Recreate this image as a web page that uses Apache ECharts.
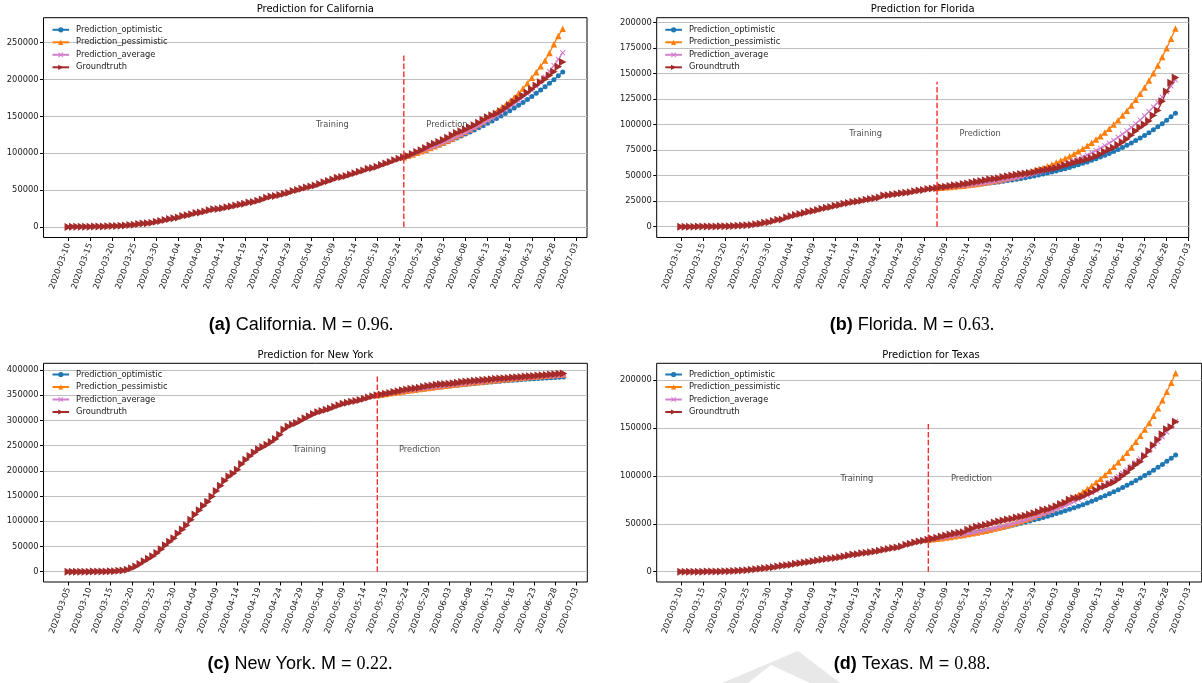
<!DOCTYPE html>
<html>
<head>
<meta charset="utf-8">
<title>Prediction vs groundtruth by state</title>
<script src="https://cdn.jsdelivr.net/npm/echarts@6/dist/echarts.min.js"></script>
<style>
  html, body { margin: 0; padding: 0; background: #fff; }
  #chart { width: 1202px; height: 683px; }
</style>
</head>
<body>
<div id="chart"></div>
<script>
// ---------------- data ----------------
const states = ['California', 'Florida', 'New York', 'Texas'];
const captionTags = ['(a)', '(b)', '(c)', '(d)'];
const mScores = ['0.96', '0.63', '0.22', '0.88'];
const seriesNames = ['Prediction_optimistic', 'Prediction_pessimistic', 'Prediction_average', 'Groundtruth'];

// first observed date and train/prediction split date of each state
const firstDates = ['2020-03-10', '2020-03-10', '2020-03-05', '2020-03-10'];
const splitDates = ['2020-05-25', '2020-05-07', '2020-05-17', '2020-05-05'];
const splitLineTops = [233000, 142000, 392000, 155000];

const ticksFrom0310 = ['2020-03-10', '2020-03-15', '2020-03-20', '2020-03-25', '2020-03-30', '2020-04-04',
  '2020-04-09', '2020-04-14', '2020-04-19', '2020-04-24', '2020-04-29', '2020-05-04', '2020-05-09',
  '2020-05-14', '2020-05-19', '2020-05-24', '2020-05-29', '2020-06-03', '2020-06-08', '2020-06-13',
  '2020-06-18', '2020-06-23', '2020-06-28', '2020-07-03'];
const ticksFrom0305 = ['2020-03-05', '2020-03-10', '2020-03-15', '2020-03-20', '2020-03-25', '2020-03-30',
  '2020-04-04', '2020-04-09', '2020-04-14', '2020-04-19', '2020-04-24', '2020-04-29', '2020-05-04',
  '2020-05-09', '2020-05-14', '2020-05-19', '2020-05-24', '2020-05-29', '2020-06-03', '2020-06-08',
  '2020-06-13', '2020-06-18', '2020-06-23', '2020-06-28', '2020-07-03'];

const yTicksCA = [0, 50000, 100000, 150000, 200000, 250000];
const yTicksFL = [0, 25000, 50000, 75000, 100000, 125000, 150000, 175000, 200000];
const yTicksNY = [0, 50000, 100000, 150000, 200000, 250000, 300000, 350000, 400000];
const yTicksTX = [0, 50000, 100000, 150000, 200000];

// California: daily cumulative cases from 2020-03-10, predictions from split date
const caTruth = [160, 180, 200, 250, 340, 380, 560, 700, 750, 950,
  1180, 1370, 1650, 2110, 2540, 3000, 3900, 4660, 5100, 5850,
  7140, 8210, 9400, 10770, 12000, 12840, 15030, 16020, 17350, 18900,
  19710, 21080, 22800, 23930, 24420, 25540, 26690, 27680, 29160, 30490,
  31430, 33260, 33860, 35470, 37340, 39560, 41360, 42160, 43560, 45030,
  46500, 48750, 50130, 52030, 53620, 54940, 56210, 58460, 60620, 62510,
  64560, 66680, 67940, 69330, 71140, 72800, 74940, 76690, 78840, 80170,
  81800, 84060, 86200, 88030, 90630, 92710, 94560, 96400, 98980, 101700,
  104070, 107020, 110580, 113010, 115310, 118080, 121220, 124300, 127560, 129940,
  132340, 135210, 138130, 141430, 145640, 148860, 151450, 153560, 157020, 161100,
  165420, 169780, 174030, 178050, 182000, 187000, 192000, 196500, 200500, 205500,
  210700, 217500, 223800];
const caOptimistic = [94500, 96400, 98300, 100300, 102300, 104400, 106500, 108700, 111000, 113300,
  115700, 118200, 120700, 123300, 126000, 128800, 131600, 134500, 137500, 140600,
  143800, 147100, 150500, 154000, 157600, 161300, 165100, 169000, 173000, 177100,
  181400, 185800, 190300, 195000, 199800, 205000, 210400];
const caPessimistic = [94500, 96500, 98500, 100600, 102700, 104900, 107200, 109600, 112100, 114700,
  117400, 120200, 123100, 126100, 129200, 132500, 135900, 139500, 143200, 147100,
  151200, 155500, 160000, 164700, 170000, 175500, 181500, 188000, 195000, 202500,
  210000, 218000, 226000, 236000, 248000, 259000, 269000];
const caAverage = [94500, 96450, 98450, 100500, 102600, 104800, 107000, 109300, 111700, 114200,
  116800, 119400, 122100, 124900, 127800, 130800, 133900, 137100, 140400, 143800,
  147300, 150900, 154700, 158600, 162600, 166800, 171200, 175800, 180600, 185600,
  190800, 196300, 203500, 211000, 219000, 227500, 236400];

// Florida
const flTruth = [20, 28, 35, 50, 77, 100, 115, 155, 216, 314,
  390, 520, 658, 830, 1227, 1412, 1682, 2355, 2900, 3763,
  4246, 5473, 6741, 6955, 9008, 10268, 11545, 12350, 13324, 14747,
  15456, 16364, 17531, 18494, 19355, 20601, 21367, 22519, 23340, 24119,
  24753, 25492, 26314, 27059, 27869, 28576, 30533, 30839, 31528, 32138,
  32846, 33193, 33690, 34728, 35463, 36078, 36897, 37439, 38002, 38828,
  39199, 39890, 40596, 40982, 41923, 42402, 43210, 44138, 44811, 45588,
  46442, 46944, 47471, 48675, 49451, 50127, 50867, 51746, 52255, 52634,
  53285, 54497, 55424, 56163, 56830, 57447, 58764, 60183, 61488, 62758,
  63938, 64904, 66000, 67371, 69069, 70971, 73552, 75568, 77326, 80109,
  82719, 85926, 89748, 93797, 97291, 100217, 103503, 109014, 114018, 122960,
  132545, 141075, 146341];
const flOptimistic = [38000, 38280, 38570, 38890, 39230, 39590, 39970, 40380, 40810, 41260,
  41740, 42240, 42780, 43330, 43920, 44540, 45180, 45860, 46570, 47310,
  48090, 48900, 49760, 50650, 51580, 52550, 53570, 54630, 55740, 56900,
  58110, 59380, 60700, 62090, 63530, 65040, 66620, 68260, 69990, 71780,
  73660, 75630, 77690, 79840, 82080, 84440, 86900, 89470, 92170, 94990,
  97950, 101040, 104290, 107690, 111250];
const flPessimistic = [38000, 38280, 38600, 38960, 39350, 39780, 40250, 40760, 41310, 41910,
  42550, 43240, 43970, 44760, 45600, 46500, 47450, 48470, 49550, 50700,
  51920, 53220, 54590, 56050, 57600, 59240, 60970, 62820, 64780, 66850,
  69050, 71380, 73860, 76490, 79280, 82240, 85390, 88730, 92280, 96060,
  100080, 104360, 108910, 113760, 118920, 124430, 130310, 136580, 143270, 150430,
  158070, 166250, 175000, 184360, 194400];
const flAverage = [38000, 38280, 38590, 38920, 39280, 39680, 40100, 40550, 41040, 41560,
  42110, 42700, 43320, 43980, 44680, 45430, 46210, 47040, 47920, 48840,
  49810, 50840, 51920, 53060, 54260, 55520, 56850, 58250, 59730, 61280,
  62910, 64620, 66430, 68340, 70340, 72450, 74670, 77010, 79470, 82070,
  84810, 87690, 90740, 93950, 97340, 100910, 104690, 108680, 112890, 117340,
  122050, 127030, 132300, 137890, 143790];

// New York (from 2020-03-05)
const nyTruth = [22, 33, 76, 105, 142, 173, 217, 326, 421, 610,
  732, 950, 1700, 2382, 4152, 7102, 10356, 15168, 20875, 25665,
  30811, 37258, 44635, 52318, 59513, 66497, 75795, 83712, 92381, 102863,
  113704, 122031, 130689, 138863, 149316, 159937, 170512, 180458, 188694, 195031,
  202208, 213779, 222284, 229642, 236732, 242786, 247512, 251690, 257216, 263460,
  271590, 282143, 288045, 291996, 295106, 299691, 304372, 308314, 312977, 316415,
  318953, 321192, 323978, 327469, 330407, 333122, 335395, 337055, 338485, 340661,
  343051, 345813, 348232, 350121, 351371, 352845, 354370, 356458, 358154, 359926,
  361515, 362764, 363836, 364965, 366733, 368284, 369660, 370770, 371711, 372494,
  373040, 374085, 375133, 376208, 377316, 378097, 378799, 379482, 380156, 380892,
  381714, 382630, 383324, 383944, 384575, 385142, 385760, 386556, 387272, 387936,
  388488, 389085, 389666, 390415, 391220, 391928, 392539, 393454];
const nyOptimistic = [350100, 351320, 352520, 353700, 354870, 356010, 357140, 358250, 359340, 360410,
  361470, 362500, 363520, 364520, 365500, 366460, 367400, 368320, 369230, 370120,
  370990, 371840, 372670, 373480, 374270, 375050, 375810, 376550, 377270, 377970,
  378650, 379320, 379960, 380590, 381200, 381790, 382370, 382920, 383460, 383970,
  384470, 384950, 385410, 385860, 386280];
const nyPessimistic = [350100, 351400, 352680, 353950, 355200, 356430, 357650, 358840, 360020, 361190,
  362340, 363470, 364580, 365670, 366750, 367820, 368860, 369890, 370900, 371890,
  372870, 373830, 374770, 375700, 376610, 377500, 378380, 379230, 380070, 380900,
  381710, 382500, 383270, 384020, 384760, 385490, 386190, 386880, 387550, 388200,
  388840, 389460, 390060, 390650, 391220];
const nyAverage = [350100, 351400, 352680, 353940, 355190, 356410, 357620, 358800, 359970, 361120,
  362250, 363360, 364450, 365530, 366580, 367620, 368630, 369630, 370610, 371570,
  372510, 373430, 374330, 375220, 376080, 376930, 377760, 378570, 379360, 380130,
  380880, 381610, 382330, 383020, 383700, 384360, 384990, 385610, 386210, 386800,
  387360, 387900, 388430, 388930, 389420];

// Texas
const txTruth = [13, 21, 27, 43, 57, 72, 85, 110, 173, 260,
  394, 581, 758, 974, 1229, 1563, 1937, 2455, 3147, 3553,
  3997, 4669, 5330, 6110, 6812, 7276, 8262, 8925, 9677, 10230,
  11007, 11671, 12561, 13158, 13677, 14277, 15006, 15907, 16876, 17849,
  18260, 19260, 19751, 20196, 21069, 21944, 22806, 23773, 24631, 25297,
  26171, 28087, 29229, 30522, 31548, 32332, 33369, 34422, 35390, 36609,
  37860, 38869, 39869, 40555, 41048, 43851, 45198, 46999, 47784, 48693,
  49912, 51323, 52268, 53449, 54509, 55348, 56560, 57230, 58354, 59776,
  61006, 62338, 64287, 64880, 66568, 68271, 70555, 72000, 74978, 76604,
  77253, 78573, 80744, 82714, 84927, 87854, 89108, 91286, 93206, 96335,
  99851, 103305, 107735, 111601, 114881, 120370, 125921, 131917, 137624, 143371,
  148728, 151000, 156600];
const txOptimistic = [33300, 33910, 34530, 35180, 35840, 36520, 37220, 37940, 38690, 39450,
  40240, 41050, 41880, 42740, 43630, 44540, 45480, 46440, 47440, 48470,
  49520, 50610, 51740, 52900, 54090, 55320, 56590, 57900, 59250, 60650,
  62090, 63570, 65100, 66690, 68320, 70000, 71740, 73540, 75390, 77310,
  79290, 81330, 83450, 85630, 87890, 90220, 92630, 95130, 97710, 100380,
  103140, 105990, 108950, 112000, 115170, 118450, 121840];
const txPessimistic = [33300, 33830, 34380, 34970, 35590, 36240, 36930, 37660, 38420, 39220,
  40060, 40950, 41880, 42860, 43890, 44970, 46100, 47300, 48550, 49870,
  51260, 52710, 54250, 55860, 57550, 59330, 61200, 63180, 65250, 67440,
  69740, 72160, 74720, 77410, 80250, 83250, 86410, 89740, 93270, 96990,
  100920, 105070, 109460, 114110, 119020, 124230, 129740, 135580, 141770, 148330,
  155290, 162680, 170530, 178860, 187720, 197140, 207160];
const txAverage = [33300, 33920, 34560, 35220, 35910, 36620, 37370, 38130, 38930, 39760,
  40620, 41520, 42440, 43410, 44410, 45440, 46520, 47640, 48800, 50010,
  51270, 52570, 53930, 55340, 56810, 58330, 59920, 61570, 63290, 65080,
  66940, 68880, 70900, 73000, 75190, 77470, 79850, 82320, 84910, 87600,
  90420, 93350, 96410, 99610, 102940, 106430, 110070, 113870, 117840, 121990,
  126340, 130880, 135630, 140610, 145810, 151260, 156960];

// ---------------- layout ----------------
const panels = [
  { truth: caTruth, opt: caOptimistic, pes: caPessimistic, avg: caAverage, xTicks: ticksFrom0310, yTicks: yTicksCA,
    grid: { left: 43.5, top: 17.7, width: 543.5, height: 219.8 }, xRange: [-5.62, 117.5], yRange: [-14250, 283900],
    titleAt: [315.3, 9.5], legendAt: [51.5, 24.8], captionAt: [301, 325] },
  { truth: flTruth, opt: flOptimistic, pes: flPessimistic, avg: flAverage, xTicks: ticksFrom0310, yTicks: yTicksFL,
    grid: { left: 656.7, top: 17.7, width: 532, height: 219.8 }, xRange: [-5.5, 115.0], yRange: [-10600, 204900],
    titleAt: [922.7, 9.5], legendAt: [664.3, 24.8], captionAt: [912, 325] },
  { truth: nyTruth, opt: nyOptimistic, pes: nyPessimistic, avg: nyAverage, xTicks: ticksFrom0305, yTicks: yTicksNY,
    grid: { left: 43.5, top: 363.3, width: 543.8, height: 218.7 }, xRange: [-5.86, 122.6], yRange: [-20400, 413500],
    titleAt: [315.4, 355.5], legendAt: [51.5, 369.5], captionAt: [300, 664] },
  { truth: txTruth, opt: txOptimistic, pes: txPessimistic, avg: txAverage, xTicks: ticksFrom0310, yTicks: yTicksTX,
    grid: { left: 656.7, top: 363.3, width: 545, height: 218.7 }, xRange: [-5.5, 117.9], yRange: [-10750, 217500],
    titleAt: [931, 355.5], legendAt: [664.3, 369.5], captionAt: [912, 664] }
];

const COLORS = ['#1f77b4', '#ff7f0e', '#d27fcf', '#a52a2a'];
const CROSS = 'path://M0,1.3L1.3,0L5,3.7L8.7,0L10,1.3L6.3,5L10,8.7L8.7,10L5,6.3L1.3,10L0,8.7L3.7,5Z';
const RIGHT_TRIANGLE = 'path://M0,0L8.7,5L0,10Z';
const FONT = 'DejaVu Sans';

function dayOffset(first, dateStr) {
  return Math.round((Date.parse(dateStr) - Date.parse(first)) / 86400000);
}
function toPoints(startDay, values) {
  return values.map((v, i) => [startDay + i, v]);
}

const option = {
  animation: false,
  backgroundColor: '#ffffff',
  title: [], legend: [], grid: [], xAxis: [], yAxis: [], series: [],
  graphic: [
    // pale chevron of the page watermark behind the lower captions
    { type: 'polygon', silent: true, z: -10,
      shape: { points: [[722, 683], [798, 651], [840, 683], [810, 683], [771, 665], [748, 683]] },
      style: { fill: '#e8e8e8' } }
  ]
};

panels.forEach((p, i) => {
  const first = firstDates[i];
  const split = dayOffset(first, splitDates[i]);
  const tickDays = p.xTicks.map(d => dayOffset(first, d));
  const tickLabel = {};
  p.xTicks.forEach((d, k) => { tickLabel[tickDays[k]] = d; });

  option.grid.push(Object.assign({ show: true, borderColor: '#000', borderWidth: 1, backgroundColor: 'transparent' }, p.grid));

  option.xAxis.push({
    type: 'value', gridIndex: i, min: p.xRange[0], max: p.xRange[1], position: 'bottom',
    axisLine: { show: false, onZero: false },
    splitLine: { show: false },
    axisTick: { show: true, customValues: tickDays, length: 3.5, lineStyle: { color: '#000', width: 1 } },
    axisLabel: { customValues: tickDays, rotate: 70, margin: 6, fontSize: 8.3, fontFamily: FONT, color: '#1a1a1a',
      formatter: v => tickLabel[v] || '' }
  });
  option.yAxis.push({
    type: 'value', gridIndex: i, min: p.yRange[0], max: p.yRange[1], position: 'left',
    axisLine: { show: false, onZero: false },
    axisTick: { show: true, customValues: p.yTicks, length: 3.5, lineStyle: { color: '#000', width: 1 } },
    axisLabel: { customValues: p.yTicks, margin: 5, fontSize: 8.3, fontFamily: FONT, color: '#1a1a1a',
      formatter: v => String(v) },
    splitLine: { show: true, lineStyle: { color: '#bfbfbf', width: 1 } }
  });

  const lineSeries = [
    { data: toPoints(split, p.opt), symbol: 'circle', symbolSize: 5 },
    { data: toPoints(split, p.pes), symbol: 'triangle', symbolSize: 6.5 },
    { data: toPoints(split, p.avg), symbol: CROSS, symbolSize: 5.5 },
    { data: toPoints(0, p.truth), symbol: RIGHT_TRIANGLE, symbolSize: [7.5, 8] }
  ];
  lineSeries.forEach((s, k) => {
    option.series.push({
      name: seriesNames[k], type: 'line', xAxisIndex: i, yAxisIndex: i,
      data: s.data, symbol: s.symbol, symbolSize: s.symbolSize, showSymbol: true,
      itemStyle: { color: COLORS[k] }, lineStyle: { color: COLORS[k], width: 1.3 },
      z: 2 + k, silent: true
    });
  });

  // dashed split marker
  option.series.push({
    name: 'split', type: 'line', xAxisIndex: i, yAxisIndex: i,
    data: [[split, 0], [split, splitLineTops[i]]], symbol: 'none', silent: true, z: 8,
    lineStyle: { color: '#ff2b2b', width: 1.4, type: [5.5, 2.4] }
  });

  // phase annotations
  const textY = 0.6 * Math.max.apply(null, p.truth);
  option.series.push({
    name: 'phase', type: 'scatter', xAxisIndex: i, yAxisIndex: i, silent: true, z: 9,
    symbolSize: 1, itemStyle: { color: 'rgba(0,0,0,0)' },
    data: [{ name: 'Training', value: [split - 20, textY] }, { name: 'Prediction', value: [split + 5, textY] }],
    label: { show: true, formatter: '{b}', position: 'right', distance: 0, offset: [0, -3],
      fontSize: 8.3, fontFamily: FONT, color: '#1a1a1a' }
  });

  option.legend.push({
    data: seriesNames, orient: 'vertical', left: p.legendAt[0], top: p.legendAt[1] + 1, padding: 0,
    itemWidth: 16.6, itemHeight: 6.5, itemGap: 4.5, selectedMode: false,
    textStyle: { fontSize: 8.3, fontFamily: FONT, color: '#1a1a1a', padding: [0, 0, 0, 2] }
  });

  option.graphic.push({
    type: 'text', x: p.titleAt[0], y: p.titleAt[1], silent: true,
    style: { text: 'Prediction for ' + states[i], fill: '#000', fontSize: 10, fontFamily: FONT,
      align: 'center', verticalAlign: 'middle' }
  });
  option.graphic.push({
    type: 'text', x: p.captionAt[0], y: p.captionAt[1], silent: true,
    style: {
      text: '{b|' + captionTags[i] + '} ' + states[i] + '. M = {m|' + mScores[i] + '.}',
      fill: '#000', fontSize: 18, fontFamily: 'Liberation Sans', align: 'center', verticalAlign: 'middle',
      rich: {
        b: { fontSize: 18, fontFamily: 'Liberation Sans', fontWeight: 'bold', fill: '#000' },
        m: { fontSize: 18, fontFamily: 'Liberation Serif', fill: '#000' }
      }
    }
  });
});

const chart = echarts.init(document.getElementById('chart'), null, { renderer: 'canvas' });
chart.setOption(option);
</script>
</body>
</html>
